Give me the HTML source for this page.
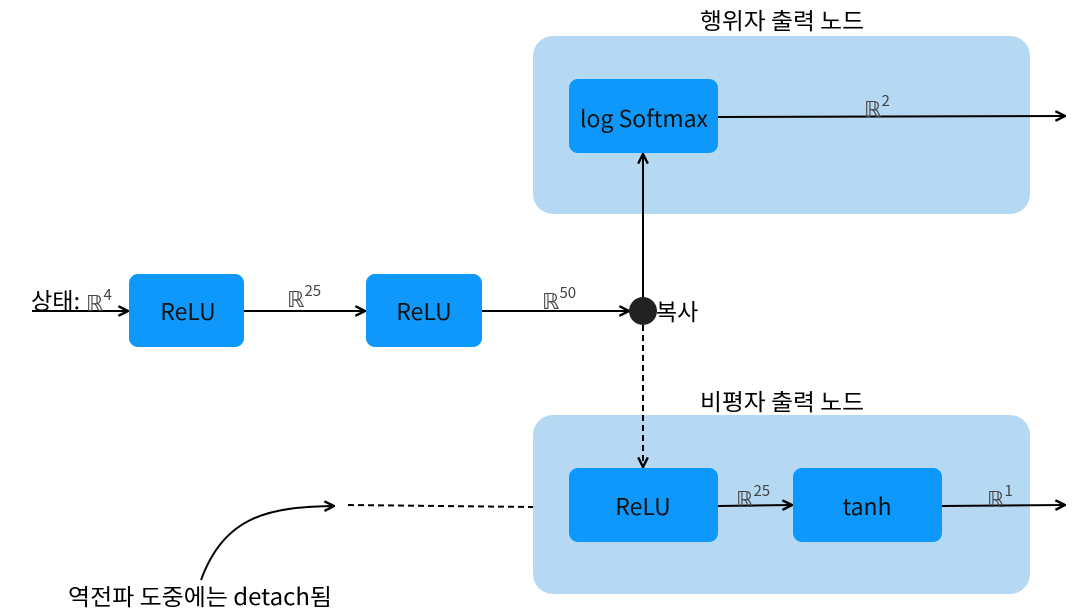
<!DOCTYPE html>
<html><head><meta charset="utf-8"><style>
body{margin:0;background:#fff;}
svg{display:block;}
text{font-family:"Noto Sans CJK KR","Liberation Sans",sans-serif;}
.m{font-family:"DejaVu Serif","Liberation Serif",serif;fill:#444;}
</style></head><body>
<svg width="1082" height="614" viewBox="0 0 1082 614">
<defs>
<marker id="a" viewBox="0 0 10 10" refX="9" refY="5" markerWidth="6" markerHeight="6" orient="auto-start-reverse">
<path d="M1,1 L9,5 L1,9" fill="none" stroke="#000" stroke-width="2"/></marker>
</defs>
<rect x="533" y="36" width="497" height="178" rx="20" fill="#b5d8f3"/>
<rect x="533" y="415" width="497" height="179" rx="20" fill="#b5d8f3"/>
<text x="700" y="29" font-size="23" textLength="164" lengthAdjust="spacingAndGlyphs">행위자 출력 노드</text>
<text x="700" y="410" font-size="23" textLength="164" lengthAdjust="spacingAndGlyphs">비평자 출력 노드</text>

<rect x="569" y="79" width="149" height="74" rx="9" fill="#0f98fc"/>
<rect x="129" y="274" width="115" height="73" rx="9" fill="#0f98fc"/>
<rect x="366" y="274" width="116" height="73" rx="9" fill="#0f98fc"/>
<rect x="569" y="468" width="149" height="74" rx="9" fill="#0f98fc"/>
<rect x="793" y="468" width="149" height="74" rx="9" fill="#0f98fc"/>
<g font-size="23" text-anchor="middle" fill="#111">
<text x="644" y="127" textLength="128" lengthAdjust="spacingAndGlyphs">log Softmax</text>
<text x="188" y="320">ReLU</text>
<text x="424" y="320">ReLU</text>
<text x="643" y="515">ReLU</text>
<text x="867" y="515">tanh</text>
</g>

<g stroke="#000" stroke-width="2" fill="none">
<line x1="32" y1="311" x2="128" y2="311" marker-end="url(#a)"/>
<line x1="244" y1="311" x2="365" y2="311" marker-end="url(#a)"/>
<line x1="482" y1="311" x2="629" y2="311" marker-end="url(#a)"/>
<line x1="643" y1="297" x2="643" y2="154" marker-end="url(#a)"/>
<line x1="643" y1="325" x2="643" y2="467" stroke-dasharray="6,4" marker-end="url(#a)"/>
<line x1="718" y1="117" x2="1065" y2="116" marker-end="url(#a)"/>
<line x1="718" y1="506" x2="792" y2="505" marker-end="url(#a)"/>
<line x1="942" y1="506" x2="1065" y2="505" marker-end="url(#a)"/>
<line x1="348" y1="505" x2="533" y2="507" stroke-dasharray="6,4"/>
<path d="M201,580 C225,515 270,507 334,506" marker-end="url(#a)"/>
</g>
<circle cx="643" cy="311" r="14" fill="#222"/>
<text x="656" y="320" font-size="23">복사</text>
<text x="31" y="309" font-size="23" textLength="49" lengthAdjust="spacingAndGlyphs">상태:</text>
<text x="68" y="605" font-size="23" textLength="264" lengthAdjust="spacingAndGlyphs">역전파 도중에는 detach됨</text>

<g class="m" font-size="22">
<text x="86" y="311">ℝ<tspan font-size="15" dy="-11">4</tspan></text>
<text x="287" y="307">ℝ<tspan font-size="15" dy="-11">25</tspan></text>
<text x="542" y="309">ℝ<tspan font-size="15" dy="-11">50</tspan></text>
<text x="864" y="117">ℝ<tspan font-size="15" dy="-11">2</tspan></text>
<text x="736" y="507">ℝ<tspan font-size="15" dy="-11">25</tspan></text>
<text x="987" y="507">ℝ<tspan font-size="15" dy="-11">1</tspan></text>
</g>
</svg>
</body></html>
